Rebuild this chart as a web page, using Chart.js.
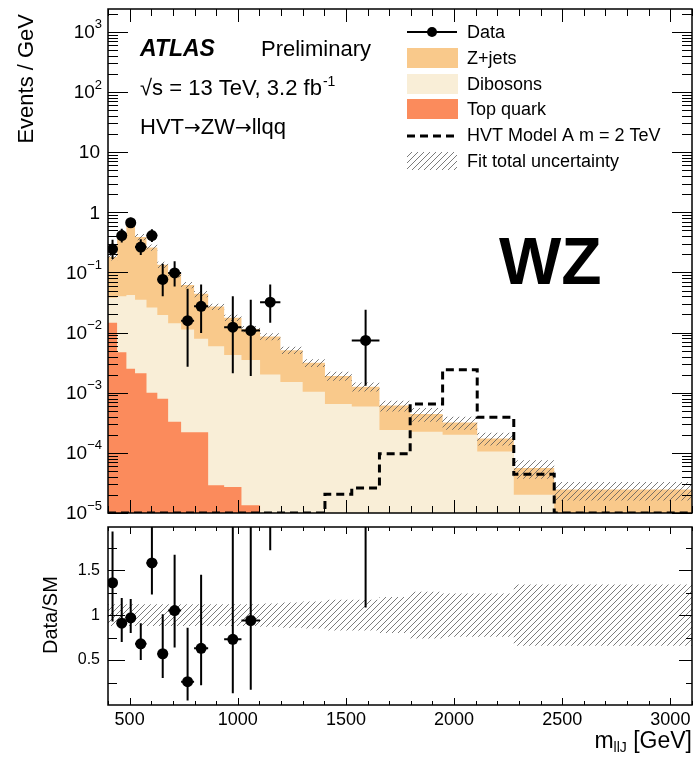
<!DOCTYPE html>
<html>
<head>
<meta charset="utf-8">
<script src="https://cdn.jsdelivr.net/npm/chart.js@4.4.0/dist/chart.umd.min.js"></script>
<style>
  body { margin: 0; background: #fff; }
  canvas { position: absolute; left: 0; }
  #topPad { top: 0; }
  #ratioPad { top: 515px; }
</style>
</head>
<body>
<canvas id="topPad" width="694" height="525"></canvas>
<canvas id="ratioPad" width="694" height="242"></canvas>
<script>
// bin edges in m_llJ [GeV], 23 bins
var edges = [400, 442, 485, 525, 578, 628, 678, 738, 798, 863, 937, 1017, 1103, 1197, 1300, 1403, 1527, 1655, 1797, 1947, 2107, 2276, 2463, 3100];

// events / GeV per bin
var zjets = [0.142, 0.41, 0.648, 0.355, 0.234, 0.115, 0.0797, 0.0508, 0.0361, 0.0211, 0.0134, 0.0080, 0.0066, 0.0036, 0.0021, 0.00125, 0.00067, 0.00037, 0.00022, 0.00012, 0.000069, 0.000036, 0.0000194];
var dibosons = [0.0235, 0.0353, 0.0395, 0.0329, 0.025, 0.0189, 0.0140, 0.0110, 0.0077, 0.0059, 0.0042, 0.0035, 0.0020, 0.0015, 0.00104, 0.00065, 0.00059, 0.00024, 0.000224, 0.0002, 0.000105, 0.00002, 0.000005];
var topquark = [0.0145, 0.0047, 0.0025, 0.0021, 0.001, 0.00079, 0.00033, 0.00022, 0.00022, 0.000029, 0.000027, 0.0000134, 0.000003, 0.000002, 0.000001, 0.000001, 0.000001, 0.0000001, 0.0000001, 0.0000001, 0.0000001, 0.0000001, 0.0000001];
var hvt = [0.00001, 0.00001, 0.00001, 0.00001, 0.00001, 0.00001, 0.00001, 0.00001, 0.00001, 0.00001, 0.00001, 0.00001, 0.00001, 0.00001, 0.00001, 0.0000205, 0.000026, 0.000097, 0.00065, 0.0024, 0.00039, 0.000044, 0.00001];
var relUnc = [0.12, 0.12, 0.12, 0.12, 0.12, 0.12, 0.12, 0.12, 0.12, 0.12, 0.12, 0.12, 0.13, 0.14, 0.15, 0.17, 0.17, 0.20, 0.26, 0.24, 0.24, 0.34, 0.34];

var dataY  = [0.245, 0.41, 0.67, 0.264, 0.41, 0.0766, 0.098, 0.0158, 0.0273, null, 0.0123, 0.0108, 0.032, null, null, null, 0.0074, null, null, null, null, null, null];
var dataLo = [0.167, 0.315, 0.55, 0.195, 0.32, 0.040, 0.0586, 0.0027, 0.0098, null, 0.0021, 0.0019, 0.0145, null, null, null, 0.0013, null, null, null, null, null, null];
var dataHi = [0.35, 0.535, 0.81, 0.355, 0.52, 0.139, 0.153, 0.0537, 0.063, null, 0.04, 0.035, 0.063, null, null, null, 0.024, null, null, null, null, null, null];

var ratioY  = [1.36, 0.91, 0.97, 0.68, 1.58, 0.57, 1.05, 0.26, 0.63, null, 0.73, 0.94, 3.7, null, null, null, 5.9, null, null, null, null, null, null];
var ratioLo = [0.93, 0.70, 0.80, 0.50, 1.23, 0.30, 0.64, 0.05, 0.22, null, 0.13, 0.17, 1.72, null, null, null, 1.085, null, null, null, null, null, null];
var ratioHi = [1.93, 1.19, 1.18, 0.91, 2.1, 1.01, 1.67, 0.86, 1.45, null, 2.4, 3.0, 7.3, null, null, null, 19, null, null, null, null, null, null];

var xLabels = [500, 1000, 1500, 2000, 2500, 3000];
var ratioLabels = [0.5, 1, 1.5];

var FONT = '"Liberation Sans", Arial, sans-serif';
Chart.defaults.font.family = FONT;
Chart.defaults.color = '#000';

var C_ZJETS = '#f9c98b';
var C_DIB = '#f9eed7';
var C_TOP = '#fb8b5c';

function makeHatch() {
  var c = document.createElement('canvas');
  c.width = 6; c.height = 6;
  var g = c.getContext('2d');
  g.strokeStyle = '#5a5a5a';
  g.lineWidth = 0.8;
  g.beginPath();
  g.moveTo(0, 6); g.lineTo(6, 0);
  g.moveTo(-1, 1); g.lineTo(1, -1);
  g.moveTo(5, 7); g.lineTo(7, 5);
  g.stroke();
  return g.createPattern(c, 'repeat');
}
var hatch = makeHatch();

function stepPoints(vals) {
  var pts = [];
  for (var i = 0; i < vals.length; i++) pts.push({x: edges[i], y: vals[i]});
  pts.push({x: edges[vals.length], y: vals[vals.length - 1]});
  return pts;
}
function centerPoints(vals) {
  var pts = [];
  for (var i = 0; i < vals.length; i++) {
    if (vals[i] !== null) pts.push({x: (edges[i] + edges[i + 1]) / 2, y: vals[i]});
  }
  return pts;
}

var stackTop = [], stackDib = [], total = [], bandUp = [], bandDn = [], ratioUp = [], ratioDn = [];
for (var i = 0; i < zjets.length; i++) {
  stackTop.push(topquark[i]);
  stackDib.push(topquark[i] + dibosons[i]);
  total.push(topquark[i] + dibosons[i] + zjets[i]);
  bandUp.push(total[i] * (1 + relUnc[i]));
  bandDn.push(total[i] * (1 - relUnc[i]));
  ratioUp.push(1 + relUnc[i]);
  ratioDn.push(1 - relUnc[i]);
}

function histo(label, vals, color, order) {
  return {label: label, data: stepPoints(vals), stepped: true, fill: 'start', backgroundColor: color,
          borderColor: 'transparent', borderWidth: 0, pointRadius: 0, order: order};
}

function errorBars(vals, lo, hi) {
  return {
    id: 'errorBars',
    afterDatasetsDraw: function(chart) {
      var ctx = chart.ctx, a = chart.chartArea, x = chart.scales.x, y = chart.scales.y;
      ctx.save();
      ctx.beginPath();
      ctx.rect(a.left, a.top, a.right - a.left, a.bottom - a.top);
      ctx.clip();
      ctx.strokeStyle = '#000';
      ctx.lineWidth = 2;
      for (var i = 0; i < vals.length; i++) {
        if (vals[i] === null) continue;
        var cx = x.getPixelForValue((edges[i] + edges[i + 1]) / 2);
        var cy = y.getPixelForValue(vals[i]);
        ctx.beginPath();
        ctx.moveTo(cx, y.getPixelForValue(lo[i]));
        ctx.lineTo(cx, y.getPixelForValue(hi[i]));
        ctx.moveTo(x.getPixelForValue(edges[i]), cy);
        ctx.lineTo(x.getPixelForValue(edges[i + 1]), cy);
        ctx.stroke();
      }
      ctx.restore();
    }
  };
}

// inward ticks + frame, ROOT style
function frame(o) {
  return {
    id: 'frame',
    afterDraw: function(chart) {
      var ctx = chart.ctx, a = chart.chartArea, x = chart.scales.x, y = chart.scales.y;
      ctx.save();
      ctx.strokeStyle = '#000';
      ctx.lineWidth = 1;
      ctx.beginPath();
      x.ticks.forEach(function(t) {
        var px = Math.round(x.getPixelForValue(t.value)) + 0.5;
        var len = xLabels.indexOf(t.value) >= 0 ? o.xMajor : o.xMinor;
        ctx.moveTo(px, a.bottom); ctx.lineTo(px, a.bottom - len);
        ctx.moveTo(px, a.top); ctx.lineTo(px, a.top + len);
      });
      o.yTicks(y).forEach(function(t) {
        var py = Math.round(y.getPixelForValue(t[0])) + 0.5;
        ctx.moveTo(a.left, py); ctx.lineTo(a.left + (t[1] ? o.yMajor : o.yMinor), py);
        ctx.moveTo(a.right, py); ctx.lineTo(a.right - (t[1] ? o.yMajorR : o.yMinorR), py);
      });
      ctx.stroke();
      ctx.lineWidth = 1.5;
      ctx.strokeRect(a.left, a.top, a.right - a.left, a.bottom - a.top);
      ctx.restore();
    }
  };
}

function logTicks(y) {
  var out = [];
  for (var d = -5; d <= 3; d++) {
    for (var m = 1; m <= 9; m++) {
      var v = m * Math.pow(10, d);
      if (v <= y.max) out.push([v, m === 1]);
    }
  }
  return out;
}
function ratioTicks(y) {
  var out = [];
  for (var v = 0.25; v < y.max; v += 0.25) out.push([v, ratioLabels.indexOf(v) >= 0]);
  return out;
}

function noPad(s) {
  s.paddingLeft = 0; s.paddingRight = 0; s.paddingTop = 0; s.paddingBottom = 0;
}

var topText = {
  id: 'topText',
  afterDraw: function(chart) {
    var ctx = chart.ctx, y = chart.scales.y;
    ctx.save();
    ctx.fillStyle = '#000';
    // log axis labels with superscripts
    ctx.textBaseline = 'middle';
    ctx.textAlign = 'right';
    for (var d = -5; d <= 3; d++) {
      var py = y.getPixelForValue(Math.pow(10, d));
      if (d === 0 || d === 1) {
        ctx.font = '19px ' + FONT;
        ctx.fillText(d === 0 ? '1' : '10', 100, py + 1);
      } else {
        var ex = d < 0 ? '\u2212' + (-d) : String(d);
        ctx.font = '13px ' + FONT;
        ctx.fillText(ex, 102, py - 7);
        var w = ctx.measureText(ex).width;
        ctx.font = '19px ' + FONT;
        ctx.fillText('10', 102 - w, py + 1);
      }
    }
    // y title
    ctx.save();
    ctx.translate(33, 14);
    ctx.rotate(-Math.PI / 2);
    ctx.textAlign = 'right';
    ctx.textBaseline = 'alphabetic';
    ctx.font = '22px ' + FONT;
    ctx.fillText('Events / GeV', 0, 0);
    ctx.restore();

    ctx.textAlign = 'left';
    ctx.textBaseline = 'alphabetic';
    ctx.font = 'italic bold 23px ' + FONT;
    ctx.fillText('ATLAS', 140, 56);
    ctx.font = '22px ' + FONT;
    ctx.fillText('Preliminary', 261, 56);
    var s = '\u221As = 13 TeV, 3.2 fb';
    ctx.fillText(s, 140, 95);
    var sw = ctx.measureText(s).width;
    ctx.font = '14px ' + FONT;
    ctx.fillText('-1', 140 + sw + 1, 86);
    // HVT -> ZW -> llqq, arrows from DejaVu
    var parts = ['HVT', '\u2192', 'ZW', '\u2192', 'llqq'], px = 140;
    parts.forEach(function(p, k) {
      ctx.font = k % 2 ? '20px "DejaVu Sans"' : '22px ' + FONT;
      ctx.fillText(p, px, 134);
      px += ctx.measureText(p).width;
    });

    ctx.font = 'bold 66px ' + FONT;
    ctx.fillText('WZ', 499, 284);

    // legend
    ctx.font = '18px ' + FONT;
    ctx.textBaseline = 'middle';
    var lx = 407, tx = 467;
    ctx.strokeStyle = '#000';
    ctx.lineWidth = 2;
    ctx.beginPath(); ctx.moveTo(lx, 32); ctx.lineTo(lx + 50, 32); ctx.stroke();
    ctx.beginPath(); ctx.arc(lx + 25, 32, 5, 0, 2 * Math.PI); ctx.fill();
    ctx.fillText('Data', tx, 33);
    var boxes = [[C_ZJETS, 'Z+jets', 58], [C_DIB, 'Dibosons', 84], [C_TOP, 'Top quark', 109]];
    boxes.forEach(function(b) {
      ctx.fillStyle = b[0];
      ctx.fillRect(lx, b[2] - 10, 51, 20);
      ctx.fillStyle = '#000';
      ctx.fillText(b[1], tx, b[2] + 1);
    });
    ctx.lineWidth = 3;
    ctx.setLineDash([8, 5]);
    ctx.beginPath(); ctx.moveTo(lx, 136); ctx.lineTo(lx + 50, 136); ctx.stroke();
    ctx.setLineDash([]);
    ctx.fillText('HVT Model A m = 2 TeV', tx, 136);
    ctx.fillStyle = hatch;
    ctx.fillRect(lx, 152, 50, 18);
    ctx.fillStyle = '#000';
    ctx.fillText('Fit total uncertainty', tx, 162);
    ctx.restore();
  }
};

var ratioText = {
  id: 'ratioText',
  afterDraw: function(chart) {
    var ctx = chart.ctx, y = chart.scales.y;
    ctx.save();
    ctx.fillStyle = '#000';
    ctx.save();
    ctx.translate(57, y.getPixelForValue(1));
    ctx.rotate(-Math.PI / 2);
    ctx.textAlign = 'center';
    ctx.font = '20px ' + FONT;
    ctx.fillText('Data/SM', 0, 0);
    ctx.restore();
    // m_llJ [GeV]
    ctx.textAlign = 'left';
    ctx.font = '23px ' + FONT;
    var w1 = ctx.measureText('m').width, w3 = ctx.measureText(' [GeV]').width;
    ctx.font = '14px ' + FONT;
    var w2 = ctx.measureText('llJ').width;
    var x0 = 692 - (w1 + w2 + w3), base = 233;
    ctx.font = '23px ' + FONT;
    ctx.fillText('m', x0, base);
    ctx.fillText(' [GeV]', x0 + w1 + w2, base);
    ctx.font = '14px ' + FONT;
    ctx.fillText('llJ', x0 + w1, base + 4);
    ctx.restore();
  }
};

new Chart(document.getElementById('topPad'), {
  type: 'line',
  data: {
    datasets: [
      {label: 'Data', data: centerPoints(dataY), showLine: false, pointRadius: 5.5, pointBackgroundColor: '#000',
       pointBorderWidth: 0, order: 1},
      {label: 'HVT Model A m = 2 TeV', data: stepPoints(hvt), stepped: true, fill: false, borderColor: '#000',
       borderWidth: 3, borderDash: [8, 5], pointRadius: 0, order: 2},
      {label: 'Fit total uncertainty', data: stepPoints(bandUp), stepped: true, fill: '+1', backgroundColor: hatch,
       borderColor: 'transparent', borderWidth: 0, pointRadius: 0, order: 3},
      {label: 'unc down', data: stepPoints(bandDn), stepped: true, fill: false, borderColor: 'transparent',
       borderWidth: 0, pointRadius: 0, order: 3},
      histo('Top quark', stackTop, C_TOP, 4),
      histo('Dibosons', stackDib, C_DIB, 5),
      histo('Z+jets', total, C_ZJETS, 6)
    ]
  },
  options: {
    responsive: false,
    animation: false,
    layout: {autoPadding: false, padding: {top: 9, right: 2, left: 0, bottom: 0}},
    plugins: {legend: {display: false}, tooltip: {enabled: false}},
    scales: {
      x: {type: 'linear', min: 400, max: 3100, ticks: {display: false, stepSize: 100},
          grid: {display: false, drawTicks: false}, border: {display: false},
          afterFit: function(s) { s.height = 12; noPad(s); }},
      y: {type: 'logarithmic', min: 1e-5, max: 2400, ticks: {display: false},
          grid: {display: false, drawTicks: false}, border: {display: false},
          afterFit: function(s) { s.width = 108; noPad(s); }}
    }
  },
  plugins: [errorBars(dataY, dataLo, dataHi), frame({xMajor: 13, xMinor: 7, yMajor: 20, yMinor: 10, yMajorR: 20, yMinorR: 10, yTicks: logTicks}), topText]
});

new Chart(document.getElementById('ratioPad'), {
  type: 'line',
  data: {
    datasets: [
      {label: 'Data/SM', data: centerPoints(ratioY), showLine: false, pointRadius: 5.5, pointBackgroundColor: '#000',
       pointBorderWidth: 0, order: 1},
      {label: 'unc up', data: stepPoints(ratioUp), stepped: true, fill: '+1', backgroundColor: hatch,
       borderColor: 'transparent', borderWidth: 0, pointRadius: 0, order: 2},
      {label: 'unc down', data: stepPoints(ratioDn), stepped: true, fill: false, borderColor: 'transparent',
       borderWidth: 0, pointRadius: 0, order: 2}
    ]
  },
  options: {
    responsive: false,
    animation: false,
    layout: {autoPadding: false, padding: {top: 12, right: 2, left: 0, bottom: 0}},
    plugins: {legend: {display: false}, tooltip: {enabled: false}},
    scales: {
      x: {type: 'linear', min: 400, max: 3100, grid: {display: false, drawTicks: false}, border: {display: false},
          ticks: {stepSize: 100, autoSkip: false, maxRotation: 0, padding: 4, font: {size: 18},
                  callback: function(v) { return xLabels.indexOf(v) >= 0 ? String(v) : ''; }},
          afterFit: function(s) { s.height = 52; noPad(s); }},
      y: {type: 'linear', min: 0, max: 1.98, grid: {display: false, drawTicks: false}, border: {display: false},
          ticks: {stepSize: 0.25, padding: 8, font: {size: 16},
                  callback: function(v) { return ratioLabels.indexOf(v) >= 0 ? String(v) : ''; }},
          afterFit: function(s) { s.width = 108; noPad(s); }}
    }
  },
  plugins: [errorBars(ratioY, ratioLo, ratioHi), frame({xMajor: 7, xMinor: 4, yMajor: 17, yMinor: 9, yMajorR: 13, yMinorR: 6, yTicks: ratioTicks}), ratioText]
});
</script>
</body>
</html>
